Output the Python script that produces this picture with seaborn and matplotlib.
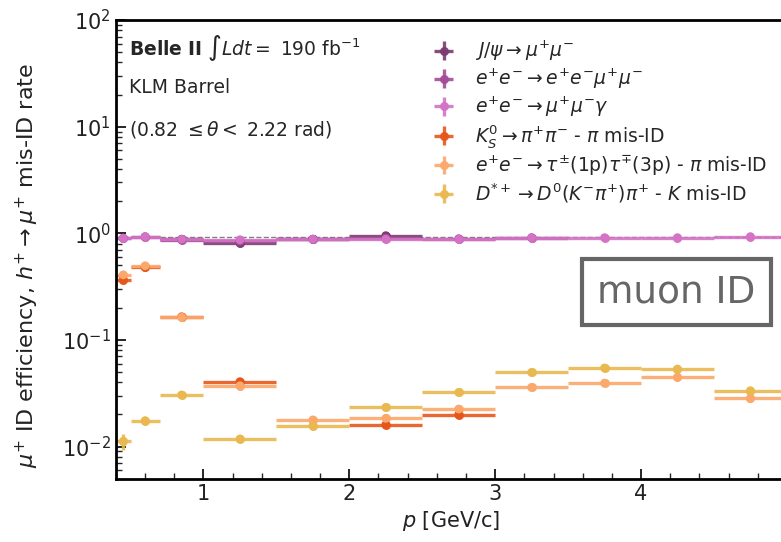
import numpy as np
import pandas as pd
import seaborn as sns
import matplotlib.pyplot as plt

sns.set_style("ticks")
plt.rcParams["font.family"] = ["DejaVu Sans"]
plt.rcParams["mathtext.fontset"] = "dejavusans"

# momentum bins [GeV/c]
edges = [0.4, 0.5, 0.7, 1.0, 1.5, 2.0, 2.5, 3.0, 3.5, 4.0, 4.5, 5.0]

labels = [
    r"$J/\psi \rightarrow \mu^{+}\mu^{-}$",
    r"$e^{+}e^{-} \rightarrow e^{+}e^{-}\mu^{+}\mu^{-}$",
    r"$e^{+}e^{-} \rightarrow \mu^{+}\mu^{-}\gamma$",
    r"$K_{S}^{0} \rightarrow \pi^{+}\pi^{-}$ - $\pi$ mis-ID",
    r"$e^{+}e^{-} \rightarrow \tau^{\pm}$(1p)$\tau^{\mp}$(3p) - $\pi$ mis-ID",
    r"$D^{*+} \rightarrow D^{0}(K^{-}\pi^{+})\pi^{+}$ - $K$ mis-ID",
]
colors = ["#7b3b70", "#a24e97", "#d472c6", "#e6561b", "#fba86c", "#e9b84f"]

nan = np.nan
jpsi = [nan, nan, 0.88, 0.81, 0.88, 0.95, nan, nan, nan, nan, nan]
eemumu = [0.90, 0.93, 0.87, 0.84, 0.88, 0.90, 0.89, 0.91, nan, nan, nan]
mumugamma = [0.90, 0.93, 0.88, 0.87, 0.88, 0.88, 0.88, 0.91, 0.91, 0.91, 0.93]
ks = [0.364, 0.478, 0.165, 0.0406, nan, 0.0160, 0.0199, nan, nan, nan, nan]
tau = [0.408, 0.496, 0.163, 0.0372, 0.0178, 0.0184, 0.0225, 0.0359, 0.0394, 0.0446, 0.0283]
dstar = [0.0112, 0.0175, 0.0305, 0.0118, 0.0157, 0.0233, 0.0322, 0.0496, 0.0546, 0.0533, 0.0334]

# relative uncertainties
err_mu = [0.02, 0.01, 0.02, 0.03, 0.02, 0.02, 0.01, 0.01, 0.01, 0.01, 0.01]
err_ks = [0.03, 0.02, 0.02, 0.04, 0.05, 0.04, 0.04, 0.05, 0.05, 0.05, 0.05]
err_tau = [0.04, 0.02, 0.03, 0.08, 0.07, 0.05, 0.05, 0.03, 0.03, 0.03, 0.08]
err_dstar = [0.17, 0.05, 0.03, 0.04, 0.08, 0.03, 0.03, 0.02, 0.02, 0.02, 0.06]

ref_line = 0.93

series = [jpsi, eemumu, mumugamma, ks, tau, dstar]
rel_errs = [err_mu, err_mu, err_mu, err_ks, err_tau, err_dstar]

edges = np.array(edges)
centers = (edges[:-1] + edges[1:]) / 2
half = (edges[1:] - edges[:-1]) / 2

rows = []
for lab, vals in zip(labels, series):
    for c, v in zip(centers, vals):
        rows.append({"p": c, "eff": v, "sample": lab})
df = pd.DataFrame(rows).dropna()

fig = plt.figure(figsize=(7.81, 5.42), dpi=100)
ax = fig.add_axes([0.1485, 0.1168, 0.859, 0.8463])

ax.axhline(ref_line, color="gray", ls="--", lw=1, zorder=1)

for lab, vals, rel, col in zip(labels, series, rel_errs, colors):
    v = np.array(vals, dtype=float)
    m = ~np.isnan(v)
    ax.errorbar(centers[m], v[m], xerr=half[m], yerr=v[m] * np.array(rel)[m],
                fmt="o", ms=5.5, color=col, lw=2.4, alpha=0.9, label=lab, zorder=2)

sns.scatterplot(data=df, x="p", y="eff", hue="sample", palette=colors,
                hue_order=labels, s=40, edgecolor="none", legend=False, ax=ax, zorder=3)

ax.set_yscale("log")
ax.set_xlim(0.4, 5.0)
ax.set_ylim(0.005, 100)
ax.set_xticks([1, 2, 3, 4])
ax.set_xticks(np.arange(0.4, 5.01, 0.2), minor=True)
ax.tick_params(axis="both", which="major", direction="in", length=7, width=1.2,
               labelsize=15, colors="black", labelcolor="#222222")
ax.tick_params(axis="both", which="minor", direction="in", length=4, width=1)
for side in ["left", "bottom", "top"]:
    ax.spines[side].set_linewidth(2)
    ax.spines[side].set_color("black")
ax.spines["right"].set_visible(False)

ax.set_xlabel(r"$p$ [GeV/c]", fontsize=15, color="#222222")
ax.set_ylabel(r"$\mu^{+}$ ID efficiency, $h^{+} \rightarrow \mu^{+}$ mis-ID rate",
              fontsize=16, color="#222222")
ax.yaxis.set_label_coords(-0.112, 0.464)

ax.text(0.019, 0.939, r"$\mathbf{Belle\ II}$ $\int Ldt=$ 190 fb$^{-1}$",
        transform=ax.transAxes, fontsize=13.5, va="center", ha="left")
ax.text(0.019, 0.852, "KLM Barrel", transform=ax.transAxes, fontsize=13.5,
        va="center", ha="left")
ax.text(0.019, 0.762, r"(0.82 $\leq\theta<$ 2.22 rad)", transform=ax.transAxes,
        fontsize=13.5, va="center", ha="left")

ax.text(0.8356, 0.407, "muon ID", transform=ax.transAxes, fontsize=27,
        color="#666666", ha="center", va="center",
        bbox=dict(boxstyle="square,pad=0.4", fc="white", ec="#666666", lw=3))

ax.legend(loc="upper left", bbox_to_anchor=(0.445, 0.995), frameon=False,
          fontsize=13.5, handlelength=1.3, handletextpad=1.0, labelspacing=0.2)

fig.savefig("out.png", dpi=100)
